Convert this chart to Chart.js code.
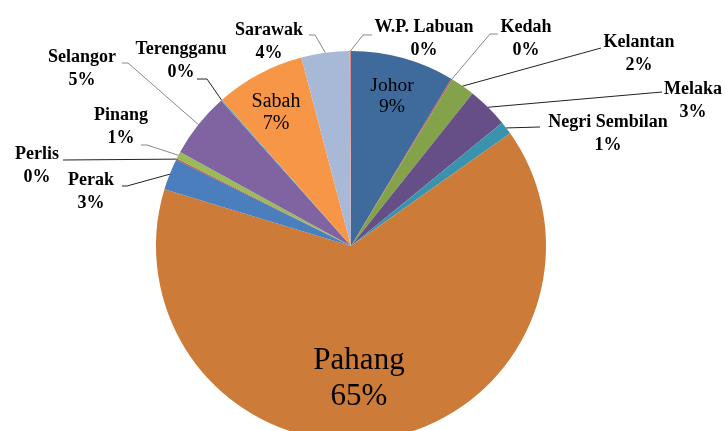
<!DOCTYPE html>
<html>
<head>
<meta charset="utf-8">
<script src="https://cdn.jsdelivr.net/npm/chart.js@4.4.0/dist/chart.umd.min.js"></script>
<style>
html,body{margin:0;padding:0;background:#fff;overflow:hidden;width:725px;height:431px;}
#wrap{position:absolute;left:0;top:0;width:725px;height:492px;}
#labels{position:absolute;left:0;top:0;width:725px;height:431px;pointer-events:none;}
.lbl{position:absolute;transform:translate(-50%,0);font-family:"Liberation Serif","Times New Roman",serif;color:#000;text-align:center;white-space:nowrap;}
</style>
</head>
<body>
<div id="wrap"><canvas id="c"></canvas></div>
<div id="labels"></div>
<script>
const categories = ["Johor","Kedah","Kelantan","Melaka","Negri Sembilan","Pahang","Perak","Perlis","Pinang","Selangor","Terengganu","Sabah","Sarawak","W.P. Labuan"];
const values = [8.6,0.1,2.0,3.4,1.1,64.5,2.6,0.1,0.6,5.4,0.1,7.4,4.0,0.1];
const colors = ["#3E6A9C","#C0504D","#84A24A","#664F86","#3A93AC","#CC7B38","#4A7EBD","#C0504D","#9BBB59","#8064A2","#4BACC6","#F79646","#A8B9D8","#D98A8A"];

const labelPos = {
  "Johor":         {x:392, y:84,  inside:true, size:19.5, gap:21},
  "Pahang":        {x:359, y:359, inside:true, size:31, gap:36},
  "Sabah":         {x:276, y:100, inside:true, size:20, gap:22},
  "Kedah":         {x:526, y:26,  pts:[[490,34],[498,34]]},
  "Kelantan":      {x:639, y:41,  pts:[[601,48]]},
  "Melaka":        {x:693, y:88,  pts:[[662,92]]},
  "Negri Sembilan":{x:608, y:121, pts:[[540,127]]},
  "Perak":         {x:91,  y:179, pts:[[127,186],[122,186]]},
  "Perlis":        {x:37,  y:153, pts:[[63,160]]},
  "Pinang":        {x:121, y:114, pts:[[147,145],[141,145]]},
  "Selangor":      {x:82,  y:56,  pts:[[128,63],[122,63]]},
  "Terengganu":    {x:181, y:48,  pts:[[207,79],[197,79]]},
  "Sarawak":       {x:269, y:29,  pts:[[315,35],[309,35]]},
  "W.P. Labuan":   {x:424, y:26,  pts:[[363,35],[372,35]]}
};
const leaderColor = {"Kedah":"#888","Selangor":"#888","Pinang":"#888","Sarawak":"#888","W.P. Labuan":"#888"};

const total = values.reduce((a,b)=>a+b,0);

const layer = document.getElementById('labels');
categories.forEach((name,i)=>{
  const p = labelPos[name];
  const pct = Math.round(values[i]/total*100) + '%';
  const size = p.size || 18;
  const gap = p.gap || 23;
  const d = document.createElement('div');
  d.className = 'lbl';
  d.style.fontSize = size + 'px';
  d.style.fontWeight = p.inside ? 'normal' : 'bold';
  d.style.left = p.x + 'px';
  d.style.top = (p.y - gap/2) + 'px';
  const line = t => '<div style="height:'+gap+'px;line-height:'+gap+'px">'+t+'</div>';
  d.innerHTML = line(name) + line(pct);
  layer.appendChild(d);
});

const leaderPlugin = {
  id:'leaders',
  afterDatasetsDraw(chart){
    const ctx = chart.ctx;
    const meta = chart.getDatasetMeta(0);
    ctx.save();
    meta.data.forEach((arc,i)=>{
      const name = categories[i];
      const p = labelPos[name];
      if(!p || p.inside) return;
      const mid = (arc.startAngle + arc.endAngle)/2;
      const sx = arc.x + Math.cos(mid)*arc.outerRadius;
      const sy = arc.y + Math.sin(mid)*arc.outerRadius;
      ctx.beginPath();
      ctx.moveTo(sx,sy);
      p.pts.forEach(q=>ctx.lineTo(q[0],q[1]));
      ctx.strokeStyle = leaderColor[name] || '#222';
      ctx.lineWidth = 1;
      ctx.stroke();
    });
    ctx.restore();
  }
};

new Chart(document.getElementById('c'), {
  type:'pie',
  data:{labels:categories, datasets:[{data:values, backgroundColor:colors, borderWidth:0}]},
  options:{
    responsive:true, maintainAspectRatio:false, animation:false,
    layout:{padding:{left:0,right:23,top:51,bottom:51}},
    plugins:{legend:{display:false}, tooltip:{enabled:false}}
  },
  plugins:[leaderPlugin]
});
</script>
</body>
</html>
